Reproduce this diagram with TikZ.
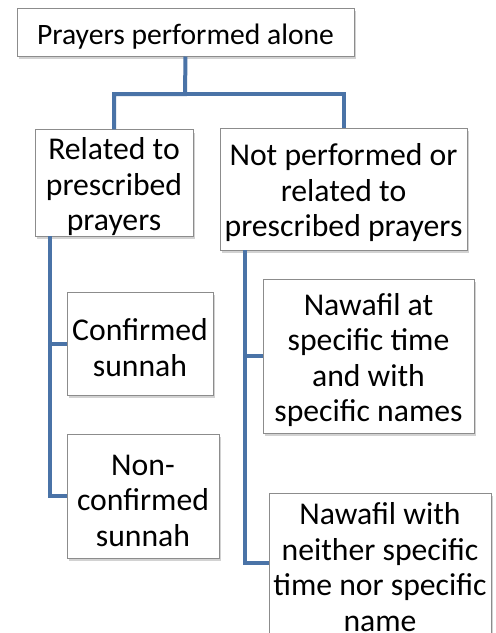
\documentclass[tikz,border=0pt]{standalone}
\usepackage{fontspec}
\setmainfont{Carlito}
\usetikzlibrary{shadows,calc}
\definecolor{linkblue}{RGB}{74,115,167}
\definecolor{boxgray}{RGB}{140,140,140}
\newcommand\toppad{\rule{0pt}{30pt}}
\begin{document}
\begin{tikzpicture}[x=1pt,y=-1pt,
  box/.style={draw=boxgray, line width=1pt, fill=white, rectangle, align=center, inner sep=0pt,
    font=\fontsize{31.7}{35.5}\selectfont,
    drop shadow={opacity=0.35, shadow xshift=2pt, shadow yshift=-3pt}},
  link/.style={draw=linkblue, line width=4pt, line join=miter}]
\useasboundingbox[fill=white] (0,0) rectangle (496,633);
\coordinate (j) at (185,94);
\coordinate (l) at (50,236);
\coordinate (r) at (245,250);
\node[box, minimum width=337pt, minimum height=48pt, font=\fontsize{29.6}{35}\selectfont] (b1) at (185.5,32) {\rule{0pt}{29pt}Prayers performed alone};
\node[box, minimum width=158pt, minimum height=106pt] (b2) at (114,183) {\toppad Related to\\prescribed\\prayers};
\node[box, minimum width=247pt, minimum height=122pt] (b3) at (343.5,189) {\toppad Not performed or\\related to\\prescribed prayers};
\node[box, minimum width=146pt, minimum height=103pt] (b4) at (140,343.5) {\toppad Confirmed\\sunnah};
\node[box, minimum width=152pt, minimum height=124pt] (b5) at (143,496) {\toppad Non-\\confirmed\\sunnah};
\node[box, minimum width=211pt, minimum height=154pt] (b6) at (368.5,356) {\toppad Nawafil at\\specific time\\and with\\specific names};
\node[box, minimum width=222pt, minimum height=140pt] (b7) at (380,563) {\toppad Nawafil with\\neither specific\\time nor specific\\name};
\draw[link] (b1.south) -- (j) -| (b2.north);
\draw[link] (j) -| (b3.north);
\draw[link] (l) |- (b4.west);
\draw[link] (l) |- (b5.west);
\draw[link] (r) |- (b6.west);
\draw[link] (r) |- (b7.west);
\end{tikzpicture}
\end{document}
